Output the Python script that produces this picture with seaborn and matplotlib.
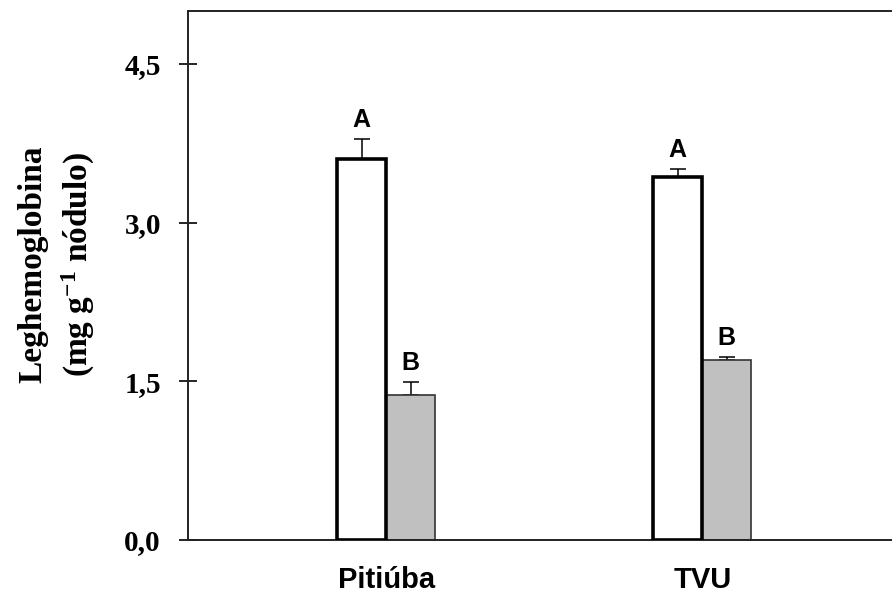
import matplotlib
matplotlib.use("Agg")
import matplotlib.pyplot as plt
import seaborn as sns
import pandas as pd

# Leghemoglobin content per cultivar, two treatments
cultivares = ["Pitiúba", "TVU"]
tratamentos = ["T1", "T2"]
valores_t1 = [3.60, 3.43]
valores_t2 = [1.375, 1.70]
erro_t1 = [0.19, 0.08]
erro_t2 = [0.12, 0.03]
letras_t1 = ["A", "A"]
letras_t2 = ["B", "B"]
yticks = [0.0, 1.5, 3.0, 4.5]
ytick_labels = ["0,0", "1,5", "3,0", "4,5"]

sns.set_theme(style="white")
plt.rcParams["mathtext.fontset"] = "custom"
plt.rcParams["mathtext.rm"] = "Liberation Serif:bold"
plt.rcParams["mathtext.bf"] = "Liberation Serif:bold"
plt.rcParams["mathtext.it"] = "Liberation Serif:bold"

df = pd.DataFrame({
    "cultivar": cultivares * 2,
    "tratamento": [tratamentos[0]] * 2 + [tratamentos[1]] * 2,
    "valor": valores_t1 + valores_t2,
})

fig = plt.figure(figsize=(8.92, 5.97), dpi=100)
ax = fig.add_axes([188 / 892, 1 - 540 / 597, 1 - 188 / 892, (540 - 11) / 597])

sns.barplot(data=df, x="cultivar", y="valor", hue="tratamento",
            order=cultivares, hue_order=tratamentos,
            palette={"T1": "white", "T2": "#c0c0c0"},
            width=0.31, errorbar=None, legend=False, ax=ax,
            saturation=1)

bar_containers = list(ax.containers)
series = [(valores_t1, erro_t1, letras_t1), (valores_t2, erro_t2, letras_t2)]
for i, container in enumerate(bar_containers):
    vals, errs, letras = series[i]
    for patch, v, e, l in zip(container.patches, vals, errs, letras):
        if i == 0:
            patch.set_edgecolor("black")
            patch.set_linewidth(2.6)
            patch.set_zorder(3)
        else:
            patch.set_edgecolor("#333333")
            patch.set_linewidth(1.2)
            patch.set_zorder(2)
        xc = patch.get_x() + patch.get_width() / 2
        ax.errorbar([xc], [v], yerr=[[0], [e]], fmt="none", ecolor="black",
                    elinewidth=1.1, capsize=5.5, capthick=1.1, zorder=1)
        ax.annotate(l, (xc, v + e), xytext=(0, 5), textcoords="offset points",
                    ha="center", va="bottom", fontsize=18, fontweight="bold",
                    family="Liberation Sans", color="black")

ax.set_xlim(-0.627, 1.60)
ax.set_ylim(0, 5.0)
ax.set_yticks(yticks)
ax.set_yticklabels(ytick_labels, family="Liberation Serif", fontweight="bold",
                   fontsize=21)
ax.set_xticks([0, 1])
ax.set_xticklabels(cultivares, family="Liberation Sans", fontweight="bold",
                   fontsize=21)
ax.tick_params(axis="y", direction="inout", length=13, width=1.2, pad=13,
               left=True, colors="black")
ax.tick_params(axis="x", length=0, pad=19, colors="black")
ax.set_xlabel("")
ax.set_ylabel("Leghemoglobina\n(mg g$^{-1}$ nódulo)", family="Liberation Serif",
              fontweight="bold", fontsize=24, linespacing=1.4, color="black")
ax.yaxis.set_label_coords((97 - 188) / 704, (540 - 264) / 529)

for side in ["left", "bottom", "top"]:
    ax.spines[side].set_visible(True)
    ax.spines[side].set_color("#222222")
    ax.spines[side].set_linewidth(1.4)
ax.spines["right"].set_visible(False)

fig.savefig("out.png", dpi=100)
